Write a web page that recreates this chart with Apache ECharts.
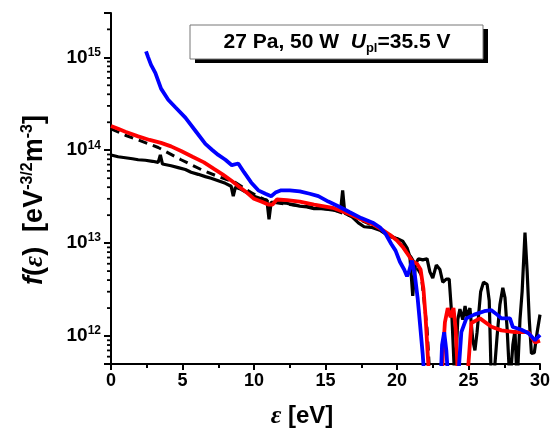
<!DOCTYPE html>
<html>
<head>
<meta charset="utf-8">
<script src="https://cdn.jsdelivr.net/npm/echarts@6/dist/echarts.min.js"></script>
<style>
html,body{margin:0;padding:0;background:#fff;}
#chart{width:556px;height:432px;}
</style>
</head>
<body>
<div id="chart"></div>
<script>
// ---- data ----
const xTicks = [0, 5, 10, 15, 20, 25, 30];
const yMajorTicks = [1e12, 1e13, 1e14, 1e15];
const yMinorTicks = [5e11, 6e11, 7e11, 8e11, 9e11,
  2e12, 3e12, 4e12, 5e12, 6e12, 7e12, 8e12, 9e12,
  2e13, 3e13, 4e13, 5e13, 6e13, 7e13, 8e13, 9e13,
  2e14, 3e14, 4e14, 5e14, 6e14, 7e14, 8e14, 9e14,
  2e15, 3e15];

const blackX = [0, 0.5, 1.0, 1.5, 1.9, 2.4, 2.9, 3.3, 3.45, 3.6, 4.2, 4.7, 5.2, 5.6, 6.1, 6.6, 7.0, 7.5, 8.0, 8.4, 8.55, 8.7, 9.1, 9.5, 10.0, 10.5, 10.9, 11.05, 11.2, 11.7, 12.2, 12.7, 13.2, 13.7, 14.2, 14.7, 15.2, 15.7, 16.05, 16.2, 16.35, 16.8, 17.3, 17.7, 18.2, 18.8, 19.2, 19.5, 20.0, 20.4, 20.7, 20.9, 21.1, 21.3, 21.5, 21.8, 22.1, 22.3, 22.5, 22.75, 23.0, 23.2, 23.45, 23.65, 23.85, 24.05, 24.25, 24.4, 24.6, 24.76, 24.9, 25.1, 25.3, 25.45, 25.6, 25.85, 26.05, 26.3, 26.45, 26.6, 26.8, 27.0, 27.2, 27.4, 27.55, 27.7, 27.9, 28.1, 28.25, 28.4, 28.6, 28.75, 28.95, 29.1, 29.25, 29.4, 29.6, 29.8, 30.0];
const blackY = [8.9e13, 8.5e13, 8.3e13, 8.1e13, 7.9e13, 7.8e13, 7.6e13, 7.4e13, 8.9e13, 7.1e13, 6.8e13, 6.5e13, 6.2e13, 5.8e13, 5.5e13, 5.2e13, 5.0e13, 4.7e13, 4.4e13, 4.1e13, 3.2e13, 4.0e13, 3.8e13, 3.5e13, 3.2e13, 3.0e13, 2.9e13, 1.8e13, 2.75e13, 2.75e13, 2.7e13, 2.6e13, 2.5e13, 2.45e13, 2.35e13, 2.35e13, 2.3e13, 2.25e13, 2.2e13, 3.7e13, 2.1e13, 1.95e13, 1.65e13, 1.5e13, 1.48e13, 1.38e13, 1.26e13, 1.17e13, 1.12e13, 1.05e13, 8.9e12, 7.2e12, 2.7e12, 6.0e12, 6.8e12, 6.6e12, 6.8e12, 4.9e12, 4.2e12, 5.8e12, 5.2e12, 3.8e12, 4.1e12, 4.1e12, 1.5e12, 3e11, 1.5e12, 1.95e12, 1.5e12, 2.1e12, 1.6e12, 2.0e12, 9e11, 7e11, 1.1e12, 3.0e12, 3.8e12, 3.6e12, 2.4e12, 3e11, 4e11, 1.0e12, 2.2e12, 3.3e12, 2.6e12, 1.2e12, 3e11, 8e11, 1.15e12, 3e11, 1.5e12, 3.0e12, 1.3e13, 5e12, 1.5e12, 6.5e11, 6.6e11, 1.1e12, 1.7e12];

const dashX = [0, 1.0, 1.9, 3.3, 4.9, 6.3, 7.5, 8.7, 9.8, 11, 12.5, 14, 15.5, 17, 18.5, 20, 21, 21.7, 22.1, 22.4];
const dashY = [1.7e14, 1.45e14, 1.29e14, 1.07e14, 7.9e13, 6.2e13, 5.2e13, 4.5e13, 3.5e13, 2.8e13, 2.6e13, 2.45e13, 2.3e13, 1.9e13, 1.5e13, 1.1e13, 7e12, 4.5e12, 1.2e12, 2e11];

const redX = [0, 0.5, 1.0, 1.9, 2.7, 3.5, 4.2, 4.9, 5.7, 6.5, 7.2, 7.8, 8.5, 9.0, 9.5, 10.0, 10.5, 11.0, 11.3, 11.6, 12.3, 13.2, 14.2, 15.5, 16.7, 17.5, 18.3, 19.0, 19.5, 20.0, 20.4, 20.8, 21.1, 21.4, 21.65, 21.85, 22.0, 22.15, 22.3, 22.5, 23.0, 23.2, 23.35, 23.55, 23.75, 23.95, 24.1, 24.25, 24.6, 24.95, 25.2, 25.8, 26.6, 27.3, 28.25, 29.2, 29.65, 30.0];
const redY = [1.82e14, 1.7e14, 1.58e14, 1.41e14, 1.29e14, 1.2e14, 1.1e14, 9.8e13, 8.5e13, 7.4e13, 6.3e13, 5.5e13, 4.6e13, 4.0e13, 3.5e13, 3.0e13, 2.8e13, 2.6e13, 2.6e13, 2.95e13, 2.9e13, 2.8e13, 2.6e13, 2.4e13, 2.05e13, 1.8e13, 1.6e13, 1.38e13, 1.23e13, 1.07e13, 9.1e12, 7.4e12, 6.3e12, 6.0e12, 5.2e12, 3.2e12, 1.6e12, 6.3e11, 2.5e11, 1e11, 1e11, 6e11, 1.4e12, 2.0e12, 1.6e12, 2.0e12, 1.2e12, 4e11, 1e11, 4e11, 1.38e12, 1.55e12, 1.26e12, 1.15e12, 1.1e12, 1.1e12, 8.5e11, 8.9e11];

const blueX = [2.45, 2.6, 2.8, 3.1, 3.5, 4.0, 4.5, 5.2, 5.9, 6.6, 7.1, 7.5, 8.0, 8.45, 8.9, 9.3, 9.8, 10.3, 10.8, 11.2, 11.5, 11.9, 12.5, 13.2, 13.9, 14.5, 15.2, 16.0, 16.7, 17.5, 18.3, 18.8, 19.2, 19.6, 19.9, 20.2, 20.5, 20.7, 20.85, 21.05, 21.25, 21.45, 21.6, 21.8, 21.95, 22.3, 23.0, 23.15, 23.3, 23.45, 23.6, 24.0, 24.3, 24.5, 24.85, 25.4, 26.1, 26.6, 27.0, 27.3, 27.9, 28.1, 28.7, 29.2, 29.65, 30.0];
const blueY = [1.16e15, 1.0e15, 8.3e14, 6.8e14, 4.6e14, 3.5e14, 2.9e14, 2.24e14, 1.62e14, 1.17e14, 1.0e14, 8.9e13, 7.9e13, 6.9e13, 7.2e13, 5.8e13, 4.5e13, 3.7e13, 3.4e13, 3.2e13, 3.5e13, 3.7e13, 3.7e13, 3.6e13, 3.4e13, 3.2e13, 2.8e13, 2.45e13, 2.15e13, 1.86e13, 1.66e13, 1.48e13, 1.26e13, 9.8e12, 8.3e12, 6.3e12, 5.2e12, 4.4e12, 5.0e12, 6.5e12, 4.5e12, 2.5e12, 1.4e12, 6.3e11, 3e11, 1e11, 2e11, 8e11, 1.1e12, 7e11, 3e11, 1e11, 4e11, 1.1e12, 1.55e12, 1.7e12, 1.85e12, 1.9e12, 1.7e12, 1.55e12, 1.55e12, 1.25e12, 1.17e12, 1.07e12, 9e11, 1.03e12];

const zip = (xs, ys) => xs.map((x, i) => [x, ys[i]]);

const FONT = 'Liberation Sans, Arial, sans-serif';
const chart = echarts.init(document.getElementById('chart'), null, {renderer: 'canvas'});

const supFmt = v => '{b|10}{s|' + Math.round(Math.log10(v)) + '}';

const staticGraphics = [
  {id: 'shadow', type: 'rect', shape: {x: 195, y: 29, width: 293, height: 34}, style: {fill: '#000'}, z: 100},
  {id: 'box', type: 'rect', shape: {x: 190, y: 25, width: 293, height: 34}, style: {fill: '#fff', stroke: '#777', lineWidth: 1}, z: 101},
  {id: 'boxText', type: 'text', x: 337, y: 42, z: 102, style: {
    text: '{n|27 Pa, 50 W  }{i|U}{sub|pl}{n|=35.5 V}',
    align: 'center', verticalAlign: 'middle',
    rich: {
      n: {fontFamily: FONT, fontWeight: 'bold', fontSize: 21, fill: '#000', lineHeight: 26},
      i: {fontFamily: FONT, fontWeight: 'bold', fontStyle: 'italic', fontSize: 21, fill: '#000', lineHeight: 26},
      sub: {fontFamily: FONT, fontWeight: 'bold', fontSize: 13, fill: '#000', verticalAlign: 'bottom', lineHeight: 13}
    }
  }},
  {id: 'xName', type: 'text', x: 302, y: 416, z: 102, style: {
    text: '{e|ε}{n| [eV]}',
    align: 'center', verticalAlign: 'middle',
    rich: {
      e: {fontFamily: 'Liberation Serif, serif', fontStyle: 'italic', fontWeight: 'bold', fontSize: 26, fill: '#000'},
      n: {fontFamily: FONT, fontWeight: 'bold', fontSize: 24, fill: '#000'}
    }
  }},
  {id: 'yName', type: 'text', x: 35, y: 200, rotation: Math.PI / 2, z: 102, style: {
    text: '{i|f}{n|(}{e|ε}{n|)  [eV}{s|-3/2}{n|m}{s|-3}{n|]}',
    align: 'center', verticalAlign: 'middle',
    rich: {
      i: {fontFamily: FONT, fontWeight: 'bold', fontStyle: 'italic', fontSize: 27, fill: '#000', lineHeight: 30},
      n: {fontFamily: FONT, fontWeight: 'bold', fontSize: 27, fill: '#000', lineHeight: 30},
      e: {fontFamily: 'Liberation Serif, serif', fontStyle: 'italic', fontWeight: 'bold', fontSize: 27, fill: '#000', lineHeight: 30},
      s: {fontFamily: FONT, fontWeight: 'bold', fontSize: 16, fill: '#000', verticalAlign: 'top', lineHeight: 16}
    }
  }}
];

chart.setOption({
  animation: false,
  backgroundColor: '#fff',
  grid: {left: 111, right: 16, top: 13, bottom: 68, containLabel: false},
  xAxis: {
    type: 'value', min: 0, max: 30, interval: 5,
    axisLine: {show: true, onZero: false, lineStyle: {color: '#000', width: 2}},
    axisTick: {show: true, length: 6, lineStyle: {color: '#000', width: 2}},
    minorTick: {show: true, splitNumber: 2, length: 4, lineStyle: {color: '#000', width: 2}},
    splitLine: {show: false},
    minorSplitLine: {show: false},
    axisLabel: {
      color: '#000', fontFamily: FONT, fontWeight: 'bold', fontSize: 18, margin: 8,
      customValues: xTicks
    }
  },
  yAxis: {
    type: 'log', logBase: 10, min: 5e11, max: 3e15, position: 'left',
    axisLine: {show: true, onZero: false, lineStyle: {color: '#000', width: 2}},
    axisTick: {show: true, length: 7, lineStyle: {color: '#000', width: 2}},
    splitLine: {show: false},
    axisLabel: {
      customValues: yMajorTicks,
      formatter: supFmt,
      margin: 10,
      rich: {
        b: {fontFamily: FONT, fontWeight: 'bold', fontSize: 19, color: '#000', lineHeight: 22},
        s: {fontFamily: FONT, fontWeight: 'bold', fontSize: 12, color: '#000', verticalAlign: 'top', lineHeight: 12}
      }
    }
  },
  graphic: staticGraphics,
  series: [
    {type: 'line', name: 'fit', data: zip(dashX, dashY), showSymbol: false, symbol: 'none', z: 2,
      lineStyle: {color: '#000', width: 3, type: [9, 6]}},
    {type: 'line', name: 'black', data: zip(blackX, blackY), showSymbol: false, symbol: 'none', z: 3,
      lineStyle: {color: '#000', width: 3.2}},
    {type: 'line', name: 'red', data: zip(redX, redY), showSymbol: false, symbol: 'none', z: 4,
      lineStyle: {color: '#ff0000', width: 3.8}},
    {type: 'line', name: 'blue', data: zip(blueX, blueY), showSymbol: false, symbol: 'none', z: 5,
      lineStyle: {color: '#0000ff', width: 3.8}}
  ]
});

// minor y ticks: positions come from the log axis via convertToPixel
const minorTickGraphics = [];
yMinorTicks.forEach((v, i) => {
  const p = chart.convertToPixel({gridIndex: 0}, [0, v]);
  if (p && isFinite(p[0]) && isFinite(p[1])) {
    minorTickGraphics.push({
      id: 'mt' + i, type: 'line', z: 120,
      shape: {x1: p[0] - 4, y1: p[1], x2: p[0], y2: p[1]},
      style: {stroke: '#000', lineWidth: 1.8}
    });
  }
});
chart.setOption({graphic: staticGraphics.concat(minorTickGraphics)});
</script>
</body>
</html>
